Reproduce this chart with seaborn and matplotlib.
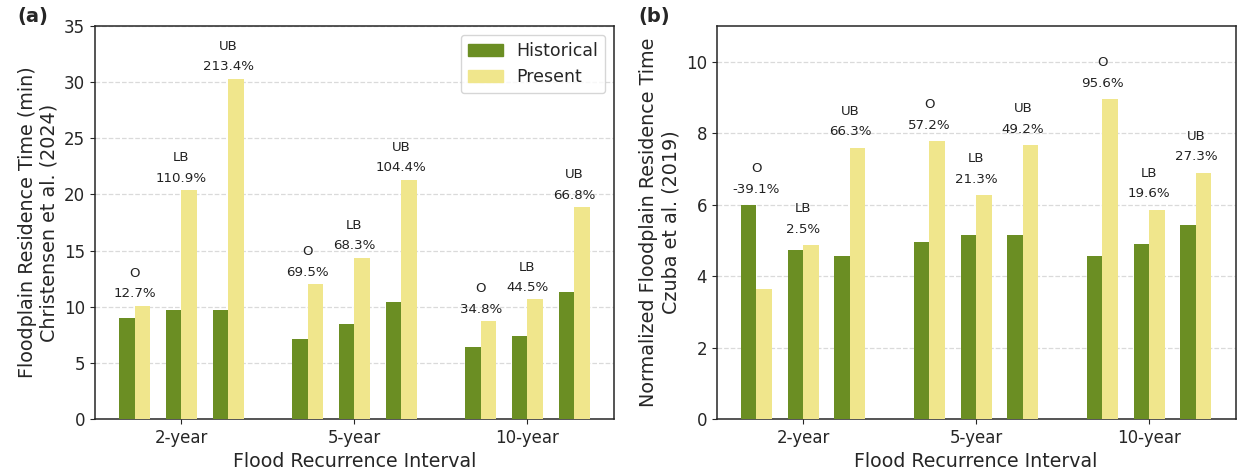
import numpy as np
import pandas as pd

import matplotlib
matplotlib.use("Agg")
import matplotlib.pyplot as plt
from matplotlib.patches import Patch
import seaborn as sns

INTERVALS = ["2-year", "5-year", "10-year"]
BOUNDS = ["O", "LB", "UB"]
PERIODS = ["Historical", "Present"]

# Christensen et al. (2024), residence time (min); rows = interval, cols = O / LB / UB
chr_hist = [[9.0, 9.7, 9.7], [7.1, 8.5, 10.45], [6.45, 7.35, 11.3]]
chr_pres = [[10.1, 20.4, 30.3], [12.0, 14.35, 21.3], [8.7, 10.65, 18.85]]
chr_pct = [[12.7, 110.9, 213.4], [69.5, 68.3, 104.4], [34.8, 44.5, 66.8]]

# Czuba et al. (2019), normalized residence time
czu_hist = [[5.98, 4.74, 4.57], [4.95, 5.16, 5.14], [4.57, 4.90, 5.42]]
czu_pres = [[3.64, 4.86, 7.6], [7.77, 6.27, 7.67], [8.95, 5.86, 6.9]]
czu_pct = [[-39.1, 2.5, 66.3], [57.2, 21.3, 49.2], [95.6, 19.6, 27.3]]

COLORES = {"Historical": "olivedrab", "Present": "khaki"}
WIDTH = 0.72


def tabla(hist, pres):
    filas = []
    for i, iv in enumerate(INTERVALS):
        for k, b in enumerate(BOUNDS):
            filas.append({"interval": iv, "slot": f"{b}|Historical", "value": hist[i][k]})
            filas.append({"interval": iv, "slot": f"{b}|Present", "value": pres[i][k]})
    return pd.DataFrame(filas)


# huecos vacios entre pares de barras (O | LB | UB)
SLOTS = ["O|Historical", "O|Present", "gap1",
         "LB|Historical", "LB|Present", "gap2",
         "UB|Historical", "UB|Present"]
PALETA = {s: (COLORES[s.split("|")[1]] if "|" in s else "white") for s in SLOTS}


def panel(ax, hist, pres, pct, pad, ylabel, letra, ylim, yticks):
    df = tabla(hist, pres)
    sns.barplot(data=df, x="interval", y="value", hue="slot", order=INTERVALS,
                hue_order=SLOTS, palette=PALETA, width=WIDTH, saturation=1,
                errorbar=None, linewidth=0, legend=False, ax=ax, zorder=3)

    slot_w = WIDTH / len(SLOTS)
    for i in range(len(INTERVALS)):
        for k, b in enumerate(BOUNDS):
            xc = i - WIDTH / 2 + slot_w * (3 * k + 1)
            top = max(hist[i][k], pres[i][k])
            ax.text(xc, top + pad, f"{b}\n{pct[i][k]:.1f}%", ha="center",
                    va="baseline", fontsize=9.6, linespacing=1.75,
                    color="#222222")

    ax.set_ylim(*ylim)
    ax.set_yticks(yticks)
    ax.set_xlim(-0.5, 2.5)
    ax.yaxis.grid(True, linestyle="--", color="0.82", lw=0.9, alpha=0.8)
    ax.set_axisbelow(True)
    ax.set_xlabel("Flood Recurrence Interval", fontsize=13.7)
    ax.set_ylabel(ylabel, fontsize=13.8)
    ax.tick_params(labelsize=12)
    for sp in ax.spines.values():
        sp.set_visible(True)
        sp.set_color("0.15")
        sp.set_linewidth(1.1)
    ax.text(-0.15, 1.0, letra, transform=ax.transAxes, fontsize=14,
            fontweight="bold", va="bottom", ha="left")


sns.set_style("ticks")
plt.rcParams["font.family"] = ["DejaVu Sans"]

fig = plt.figure(figsize=(12.38, 4.75), dpi=100)
ax_a = fig.add_axes([0.0767, 0.118, 0.4192, 0.827])
ax_b = fig.add_axes([0.5789, 0.118, 0.4192, 0.827])

panel(ax_a, chr_hist, chr_pres, chr_pct, 0.75,
      "Floodplain Residence Time (min)\nChristensen et al. (2024)", "(a)",
      (0, 35), np.arange(0, 36, 5))
panel(ax_b, czu_hist, czu_pres, czu_pct, 0.35,
      "Normalized Floodplain Residence Time\nCzuba et al. (2019)", "(b)",
      (0, 11), np.arange(0, 11, 2))

handles = [Patch(color=COLORES[p], label=p) for p in PERIODS]
ax_a.legend(handles=handles, loc="upper right", fontsize=12.5, frameon=True)

fig.savefig("out.png", dpi=100)
